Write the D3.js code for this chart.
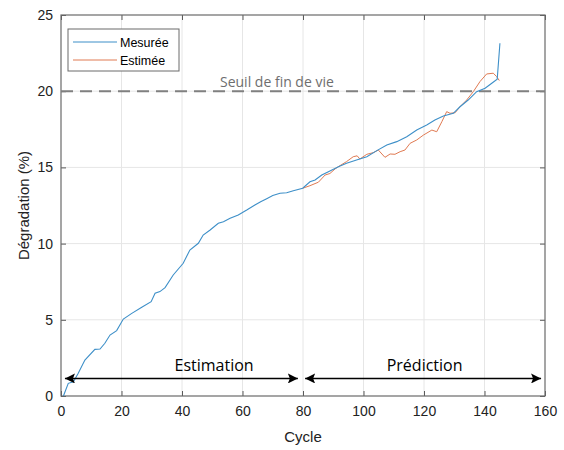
<!DOCTYPE html>
<html><head><meta charset="utf-8">
<script src="https://cdn.jsdelivr.net/npm/d3@7"></script>
<style>body{margin:0;background:#fff}svg{display:block}</style>
</head><body>
<svg id="c" width="564" height="450"></svg>
<script>
const xTicks = [0,20,40,60,80,100,120,140,160];
const yTicks = [0,5,10,15,20,25];
const measuredCycle = [0.8,2.4,4.1,5.7,7.9,11.2,12.9,14.5,16.2,18.4,20.6,23.4,26.7,29.8,31.1,32.7,34.4,37.1,40.4,42.6,45.4,47.0,49.3,52.0,53.7,55.9,58.6,61.4,64.1,66,68,70,72.4,74.6,76.8,79.9,82.3,84.0,86.2,88.4,91.7,94.4,97.7,101.1,104.4,107.7,111.0,114.3,117.6,120.9,123.6,126.4,129.7,131.9,134.6,137.4,140.2,142.4,144.2,145.1];
const measuredValue = [0,0.83,0.94,1.49,2.36,3.06,3.08,3.46,4.0,4.29,5.05,5.42,5.82,6.19,6.74,6.85,7.11,7.94,8.71,9.58,10.02,10.56,10.89,11.33,11.44,11.66,11.88,12.2,12.53,12.75,12.95,13.15,13.3,13.34,13.47,13.63,14.06,14.17,14.5,14.72,15.05,15.27,15.49,15.7,16.1,16.47,16.69,17.01,17.45,17.78,18.11,18.37,18.55,18.98,19.42,19.97,20.19,20.52,20.78,23.15];
const estimatedCycle = [79.9,82.3,85.1,87.3,88.9,90.6,91.7,94.4,96.6,97.9,98.8,101.1,103.3,104.9,107.1,108.8,110.4,112.1,113.7,115.4,117.6,119.8,122.6,124.2,125.9,127.5,128.6,130.3,131.9,134.1,136.3,138.5,140.7,142.9,144.0,144.9];
const estimatedValue = [13.63,13.8,14.03,14.5,14.6,14.9,15.05,15.38,15.7,15.76,15.55,15.86,15.97,16.14,15.66,15.88,15.86,16.03,16.14,16.58,16.8,17.12,17.45,17.34,18.0,18.66,18.55,18.59,18.98,19.42,19.97,20.63,21.13,21.18,20.96,20.7];
const seriesNames = ["Mesurée","Estimée"];
const threshold = 20;
const thresholdLabel = "Seuil de fin de vie";
const phaseLabels = ["Estimation","Prédiction"];
const phaseRanges = [[1.3,78.3],[80.7,158.7]];
const phaseLabelCycle = [50.6,120.2];
const arrowY = 1.15;

const svg = d3.select("#c");
const L=61,R=545,T=15,B=396;
const x = d3.scaleLinear().domain([0,160]).range([L,R]);
const y = d3.scaleLinear().domain([0,25]).range([B,T]);
const font = "Arial, 'Liberation Sans', sans-serif";
const sfont = "'Open Sans', 'Noto Sans', sans-serif";

// grid
svg.append("g").selectAll("line").data(xTicks.slice(1,-1)).join("line")
  .attr("x1",d=>x(d)).attr("x2",d=>x(d)).attr("y1",T).attr("y2",B)
  .attr("stroke","#e6e6e6").attr("stroke-width",1);
svg.append("g").selectAll("line").data(yTicks.slice(1,-1)).join("line")
  .attr("y1",d=>y(d)).attr("y2",d=>y(d)).attr("x1",L).attr("x2",R)
  .attr("stroke","#e6e6e6").attr("stroke-width",1);

// axes
const ax = svg.append("g").attr("transform",`translate(0,${B})`)
  .call(d3.axisBottom(x).tickValues(xTicks).tickSize(-5).tickPadding(10));
const ay = svg.append("g").attr("transform",`translate(${L},0)`)
  .call(d3.axisLeft(y).tickValues(yTicks).tickSize(-5).tickPadding(8));
const axT = svg.append("g").attr("transform",`translate(0,${T})`)
  .call(d3.axisTop(x).tickValues(xTicks).tickSize(-5).tickFormat(""));
const ayR = svg.append("g").attr("transform",`translate(${R},0)`)
  .call(d3.axisRight(y).tickValues(yTicks).tickSize(-5).tickFormat(""));
[ax,ay,axT,ayR].forEach(g=>{
  g.selectAll(".domain").remove();
  g.selectAll("line").attr("stroke","#5a5a5a");
  g.selectAll("text").attr("font-family",font).attr("font-size",14).attr("fill","#222");
});
svg.append("rect").attr("x",L).attr("y",T).attr("width",R-L).attr("height",B-T)
  .attr("fill","none").attr("stroke","#6a6a6a").attr("stroke-width",1.2);

// threshold
svg.append("line").attr("x1",L).attr("x2",R).attr("y1",y(threshold)).attr("y2",y(threshold))
  .attr("stroke","#808080").attr("stroke-width",2).attr("stroke-dasharray","12,7");
svg.append("text").attr("x",220).attr("y",y(threshold)-4).text(thresholdLabel)
  .attr("font-family",sfont).attr("font-size",14).attr("fill","#6e6e6e");

// lines
const line = d3.line().x(d=>x(d[0])).y(d=>y(d[1]));
const mData = measuredCycle.map((c,i)=>[c,measuredValue[i]]);
const eData = estimatedCycle.map((c,i)=>[c,estimatedValue[i]]);
svg.append("path").datum(eData).attr("d",line).attr("fill","none")
  .attr("stroke","#e07a52").attr("stroke-width",1);
svg.append("path").datum(mData).attr("d",line).attr("fill","none")
  .attr("stroke","#3d8fc8").attr("stroke-width",1.1);

// arrows
const defs = svg.append("defs");
defs.append("marker").attr("id","ah").attr("viewBox","0 0 10 10").attr("refX",10).attr("refY",5)
  .attr("markerWidth",10).attr("markerHeight",10).attr("markerUnits","userSpaceOnUse").attr("orient","auto-start-reverse")
  .append("path").attr("d","M0,0L10,5L0,10L2,5Z").attr("fill","#000");
phaseRanges.forEach((r,i)=>{
  svg.append("line").attr("x1",x(r[0])).attr("x2",x(r[1])).attr("y1",y(arrowY)).attr("y2",y(arrowY))
    .attr("stroke","#000").attr("stroke-width",1.6)
    .attr("marker-start","url(#ah)").attr("marker-end","url(#ah)");
  svg.append("text").attr("x",x(phaseLabelCycle[i])).attr("y",y(arrowY)-7).text(phaseLabels[i])
    .attr("text-anchor","middle").attr("font-family",sfont).attr("font-size",16).attr("fill","#000");
});

// legend
const lg = svg.append("g");
lg.append("rect").attr("x",68).attr("y",29).attr("width",111).attr("height",42)
  .attr("fill","#fff").attr("stroke","#6a6a6a").attr("stroke-width",1);
const lcol = ["#3d8fc8","#e07a52"];
seriesNames.forEach((n,i)=>{
  const yy = 42+i*18;
  lg.append("line").attr("x1",73).attr("x2",117).attr("y1",yy).attr("y2",yy).attr("stroke",lcol[i]).attr("stroke-width",1);
  lg.append("text").attr("x",120).attr("y",yy+4.5).text(n).attr("font-family",font).attr("font-size",12.5).attr("fill","#000");
});

// axis labels
svg.append("text").attr("x",(L+R)/2).attr("y",442).attr("text-anchor","middle").text("Cycle")
  .attr("font-family",font).attr("font-size",15).attr("fill","#222");
svg.append("text").attr("transform",`translate(29,${(T+B)/2}) rotate(-90)`).attr("text-anchor","middle")
  .text("Dégradation (%)").attr("font-family",font).attr("font-size",15).attr("fill","#222");
</script>
</body></html>
